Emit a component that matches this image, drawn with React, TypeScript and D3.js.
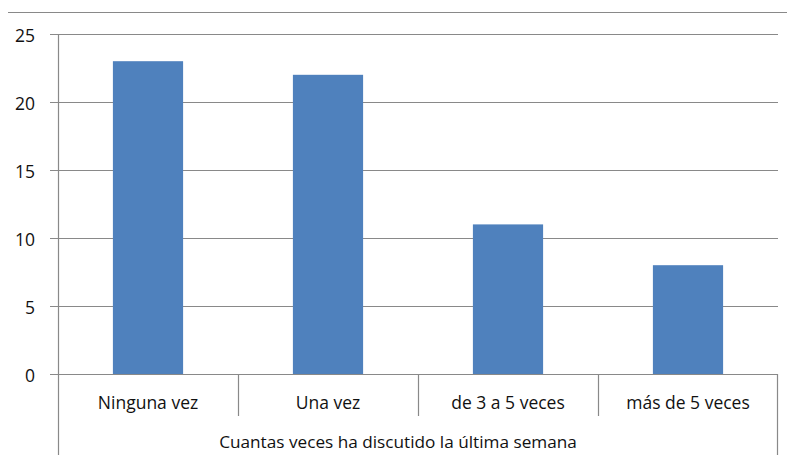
import React, { useEffect, useRef } from 'react';
import * as d3 from 'd3';

const categories = ['Ninguna vez', 'Una vez', 'de 3 a 5 veces', 'más de 5 veces'];
const counts = [23, 22, 11, 8];
const yTicks = [0, 5, 10, 15, 20, 25];
const groupLabel = 'Cuantas veces ha discutido la última semana';

const W = 795;
const H = 463;
const FONT = "'Open Sans', 'Noto Sans', sans-serif";

function BarChart() {
  const ref = useRef<SVGSVGElement>(null);

  useEffect(() => {
    const svg = d3.select(ref.current);
    svg.selectAll('*').remove();

    const left = 58, right = 778, top = 34, bottom = 374;
    const gridColor = '#898989';
    const textColor = '#111';

    const x = d3.scaleBand().domain(categories).range([left, right]).paddingInner(0.61).paddingOuter(0.305);
    const band = d3.scaleBand().domain(categories).range([left, right]);
    const y = d3.scaleLinear().domain([0, 25]).range([bottom, top]);

    // outer frame
    svg.append('path')
      .attr('d', `M1.5,${H} V12.5 H${W}`)
      .attr('fill', 'none')
      .attr('stroke', gridColor);

    // gridlines and ticks
    svg.append('g').selectAll('line')
      .data(yTicks)
      .join('line')
      .attr('x1', left - 8)
      .attr('x2', right)
      .attr('y1', d => Math.round(y(d)) + 0.5)
      .attr('y2', d => Math.round(y(d)) + 0.5)
      .attr('stroke', gridColor)
      .attr('stroke-width', 1.2);

    svg.append('g').selectAll('text')
      .data(yTicks)
      .join('text')
      .attr('x', 35)
      .attr('y', d => y(d))
      .attr('dy', '0.44em')
      .attr('text-anchor', 'end')
      .attr('font-family', FONT)
      .attr('font-size', 17.5)
      .attr('fill', textColor)
      .text(d => d);

    // bars
    svg.append('g').selectAll('rect')
      .data(counts)
      .join('rect')
      .attr('x', (d, i) => x(categories[i])!)
      .attr('y', d => y(d))
      .attr('width', x.bandwidth())
      .attr('height', d => y(0) - y(d))
      .attr('fill', '#4f81bd');

    // value axis line
    svg.append('line')
      .attr('x1', left + 0.5).attr('x2', left + 0.5)
      .attr('y1', top).attr('y2', 457)
      .attr('stroke', gridColor).attr('stroke-width', 1.2);

    // category separators
    const seps = categories.slice(1).map(c => band(c)!);
    svg.append('g').selectAll('line')
      .data(seps)
      .join('line')
      .attr('x1', d => Math.round(d) + 0.5).attr('x2', d => Math.round(d) + 0.5)
      .attr('y1', bottom).attr('y2', 416)
      .attr('stroke', gridColor).attr('stroke-width', 1.2);

    svg.append('line')
      .attr('x1', right - 0.5).attr('x2', right - 0.5)
      .attr('y1', bottom).attr('y2', 457)
      .attr('stroke', gridColor).attr('stroke-width', 1.2);

    // category labels
    svg.append('g').selectAll('text')
      .data(categories)
      .join('text')
      .attr('x', d => band(d)! + band.bandwidth() / 2)
      .attr('y', 409)
      .attr('text-anchor', 'middle')
      .attr('font-family', FONT)
      .attr('font-size', 17.5)
      .attr('fill', textColor)
      .text(d => d);

    svg.append('text')
      .attr('x', (left + right) / 2 - 20)
      .attr('y', 448)
      .attr('text-anchor', 'middle')
      .attr('font-family', FONT)
      .attr('font-size', 17.2)
      .attr('fill', textColor)
      .text(groupLabel);
  }, []);

  return <svg ref={ref} width={W} height={H} style={{ display: 'block' }} />;
}

export default function App() {
  return (
    <div style={{ margin: -8 }}>
      <BarChart />
    </div>
  );
}
